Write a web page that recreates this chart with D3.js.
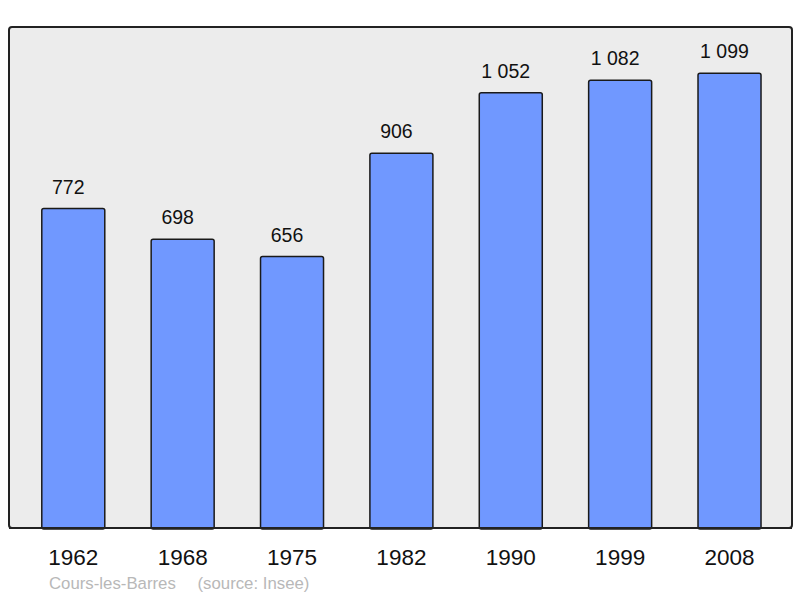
<!DOCTYPE html>
<html>
<head>
<meta charset="utf-8">
<script src="https://cdn.jsdelivr.net/npm/d3@7"></script>
<style>
  body { margin: 0; background: #fff; }
  text { font-family: "Liberation Sans", Arial, sans-serif; }
</style>
</head>
<body>
<div id="chart"></div>
<script>
// Data
const years = ['1962', '1968', '1975', '1982', '1990', '1999', '2008']
const population = [772, 698, 656, 906, 1052, 1082, 1099]
const place = 'Cours-les-Barres'
const source = '(source: Insee)'

const dimensions = { width: 800, height: 598 }
const panel = { x: 9, y: 27, w: 783, h: 501 }

const svg = d3.select('#chart')
    .append('svg')
    .attr('width', dimensions.width)
    .attr('height', dimensions.height)

// background panel
svg.append('rect')
    .attr('x', panel.x)
    .attr('y', panel.y)
    .attr('width', panel.w)
    .attr('height', panel.h)
    .attr('rx', 3)
    .attr('fill', '#ececec')
    .attr('stroke', '#222')
    .attr('stroke-width', 2)

const x = d3.scaleBand()
    .domain(years)
    .range([18.6, 784.2])
    .paddingInner(0.424)
    .paddingOuter(0.212)

const y = d3.scaleLinear()
    .domain([0, 1211])
    .range([panel.y + panel.h, panel.y])

// "1 052" style, plain space as thousands separator
const fmt = v => d3.format(',')(v).replace(',', ' ')

// bars
svg.append('g')
    .selectAll('rect')
    .data(population)
    .join('rect')
    .attr('x', (d, i) => x(years[i]))
    .attr('y', d => y(d))
    .attr('width', x.bandwidth())
    .attr('height', d => y(0) - y(d) + 1)
    .attr('rx', 2)
    .attr('fill', '#7098ff')
    .attr('stroke', '#1a1a1a')
    .attr('stroke-width', 1.5)

// value labels (sit a little left of bar centre, as in the original)
svg.append('g')
    .selectAll('text')
    .data(population)
    .join('text')
    .attr('x', (d, i) => x(years[i]) + x.bandwidth() / 2 - 5)
    .attr('y', d => y(d) - 15)
    .attr('text-anchor', 'middle')
    .attr('font-size', 19.5)
    .attr('fill', '#111')
    .text(fmt)

// panel bottom border over the bars
svg.append('line')
    .attr('x1', panel.x)
    .attr('x2', panel.x + panel.w)
    .attr('y1', panel.y + panel.h)
    .attr('y2', panel.y + panel.h)
    .attr('stroke', '#222')
    .attr('stroke-width', 2)

// year axis
const axis = svg.append('g')
    .attr('transform', `translate(0,${panel.y + panel.h})`)
    .call(d3.axisBottom(x).tickSize(0).tickPadding(0))
axis.select('.domain').remove()
axis.selectAll('text')
    .attr('y', 37)
    .attr('dy', null)
    .attr('font-size', 22.5)
    .attr('font-family', '"Liberation Sans", Arial, sans-serif')
    .attr('fill', '#111')

// footer
const footer = svg.append('g')
    .attr('font-size', 16.8)
    .attr('fill', '#b8b8b8')
footer.append('text')
    .attr('x', 49)
    .attr('y', 589)
    .text(place)
footer.append('text')
    .attr('x', 197.5)
    .attr('y', 589)
    .text(source)
</script>
</body>
</html>
